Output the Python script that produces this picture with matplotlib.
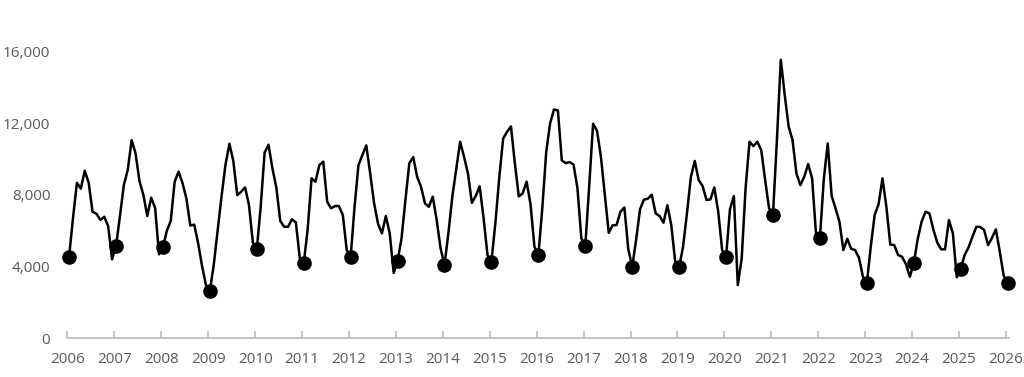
import numpy as np
import matplotlib
matplotlib.use("Agg")
import matplotlib.pyplot as plt
from matplotlib.ticker import FuncFormatter

# monthly values, Jan 2006 .. Jan 2026
monthly = [
    4550, 6700, 8680, 8350, 9350, 8700, 7060, 6950, 6600, 6780, 6250, 4400,      # 2006
    5140, 6800, 8550, 9400, 11070, 10320, 8780, 8000, 6820, 7850, 7270, 4680,    # 2007
    5070, 6000, 6550, 8740, 9300, 8670, 7800, 6290, 6340, 5300, 4030, 2960,      # 2008
    2630, 4100, 6000, 7950, 9700, 10860, 9900, 7990, 8180, 8420, 7440, 5330,     # 2009
    4960, 7340, 10370, 10810, 9480, 8410, 6550, 6220, 6220, 6640, 6460, 4460,    # 2010
    4180, 6040, 8930, 8740, 9670, 9860, 7620, 7250, 7380, 7380, 6880, 4920,      # 2011
    4530, 7340, 9670, 10230, 10770, 9200, 7530, 6390, 5850, 6820, 5850, 3640,    # 2012
    4310, 5550, 7700, 9770, 10120, 9020, 8460, 7530, 7340, 7900, 6600, 5010,     # 2013
    4080, 5870, 7900, 9450, 10975, 10135, 9200, 7560, 7950, 8480, 6700, 4640,    # 2014
    4270, 6400, 8950, 11160, 11530, 11830, 9760, 7920, 8090, 8740, 7480, 5100,   # 2015
    4640, 7220, 10370, 12000, 12780, 12730, 9930, 9780, 9840, 9700, 8370, 5570,  # 2016
    5140, 8480, 11980, 11590, 10135, 7990, 5880, 6300, 6320, 7060, 7300, 4970,   # 2017
    3990, 5480, 7200, 7740, 7790, 8010, 6970, 6820, 6450, 7430, 6300, 4270,      # 2018
    3950, 5100, 6970, 9000, 9900, 8830, 8500, 7720, 7750, 8420, 7060, 4920,      # 2019
    4545, 7200, 7940, 2960, 4450, 8400, 10975, 10730, 10975, 10510, 8830, 7250,  # 2020
    6900, 11050, 15560, 13600, 11830, 11070, 9200, 8550, 9020, 9730, 8930, 5850, # 2021
    5570, 8900, 10880, 7950, 7250, 6500, 4920, 5550, 4990, 4920, 4480, 3430,     # 2022
    3060, 5100, 6880, 7480, 8930, 7340, 5220, 5200, 4640, 4545, 4130, 3430,      # 2023
    4175, 5520, 6500, 7060, 6970, 6080, 5340, 4960, 4960, 6600, 5850, 3400,      # 2024
    3840, 4640, 5060, 5660, 6220, 6210, 6040, 5200, 5600, 6075, 4830, 3480,      # 2025
    3060,                                                                        # Jan 2026
]
first_year = 2006
year_labels = [str(y) for y in range(2006, 2027)]
y_ticks = [0, 4000, 8000, 12000, 16000]

vals = np.array(monthly)
x = first_year + np.arange(len(vals)) / 12.0
jan_x = x[::12]
jan_v = vals[::12]

grey = "#595959"
plt.rcParams["font.family"] = ["Open Sans", "DejaVu Sans"]

fig = plt.figure(figsize=(10.24, 3.77), dpi=100)
ax = fig.add_axes([0.0654, 0.1034, 0.9202, 0.8064])

ax.plot(x + 0.035, vals, color="black", lw=1.8, zorder=2, clip_on=False)
ax.plot(jan_x + 0.035, jan_v, "o", color="black", ms=9.5, zorder=3, clip_on=False)

ax.set_xlim(2005.99, 2026.07)
ax.set_ylim(0, 17000)
ax.set_xticks(range(2006, 2027))
ax.set_xticklabels(year_labels)
ax.set_yticks(y_ticks)
ax.yaxis.set_major_formatter(FuncFormatter(lambda v, p: f"{int(v):,}"))

for s in ["top", "right", "left"]:
    ax.spines[s].set_visible(False)
ax.spines["bottom"].set_color("#BFBFBF")
ax.spines["bottom"].set_linewidth(1.3)
ax.tick_params(axis="x", direction="in", length=5, width=1.3, color="#BFBFBF",
               labelcolor=grey, labelsize=11, pad=10)
ax.tick_params(axis="y", length=0, labelcolor=grey, labelsize=11, pad=12)

fig.savefig("out.png", dpi=100)
